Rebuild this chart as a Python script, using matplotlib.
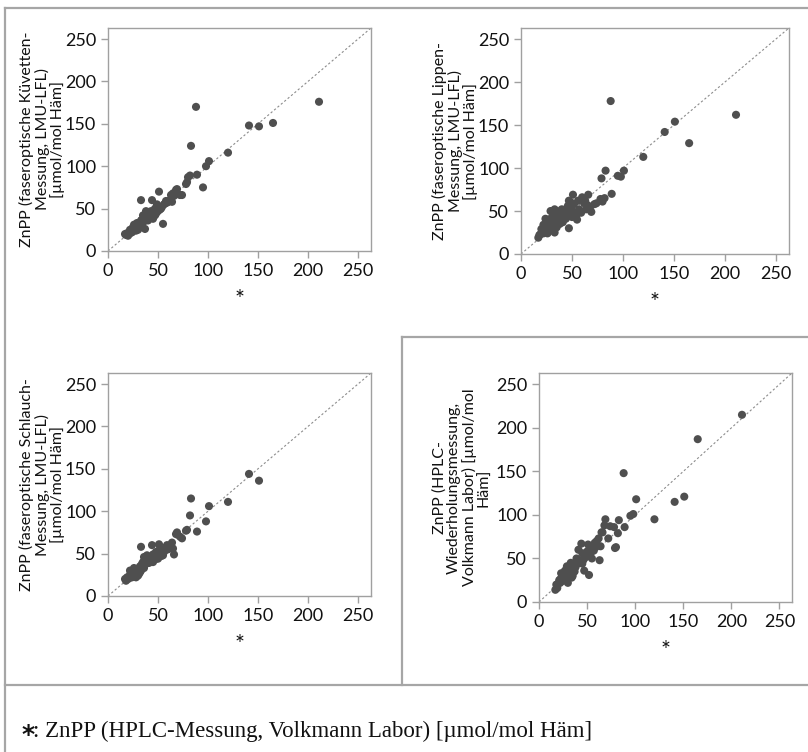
import numpy as np
import matplotlib
matplotlib.use("Agg")
import matplotlib.pyplot as plt
from matplotlib.lines import Line2D

nan = np.nan

# Reference method (HPLC, Volkmann Labor) values, shared by all panels
x_ref = [211, 165, 151, 141, 120, 101, 98, 95, 89, 88, 83, 82, 80, 79, 78, 74, 72, 69, 68, 66,
         65, 64, 63, 62, 60, 59, 58, 57, 56, 55, 54, 53, 52, 51, 50, 50, 49, 48, 47, 47,
         46, 45, 45, 44, 43, 42, 41, 40, 40, 39, 38, 38, 37, 36, 36, 35, 35, 34, 34, 33,
         33, 32, 32, 31, 31, 30, 30, 29, 29, 28, 28, 27, 27, 26, 26, 25, 25, 24, 24, 23,
         22, 22, 21, 20, 19, 18, 17]

# Küvetten-Messung
y_kuevette = [176, 151, 147, 148, 116, 106, 100, 75, 90, 170, 124, 89, 87, 81, 79, 66, 66, 73, 72, 65,
              68, 58, 66, 60, 58, 57, 59, 56, 55, 32, 52, 50, 49, 70, 47, 53, 55, 44, 50, 42,
              46, 41, 38, 60, 47, 40, 44, 36, 42, 38, 44, 47, 26, 40, 35, 34, 42, 37, 31, 60,
              36, 29, 33, 30, 27, 32, 25, 28, 33, 30, 24, 29, 26, 27, 31, 24, 28, 25, 22, 24,
              21, 25, 20, 18, 21, 19, 20]

# Lippen-Messung
y_lippe = [162, 129, 154, 142, 113, 97, 90, 91, 70, 178, 97, 65, 61, 88, 64, 59, 58, 49, 55, 69,
           57, 52, 62, 59, 66, 48, 50, 52, 62, 40, 44, 47, 58, 69, 51, 43, 60, 57, 62, 30,
           56, 53, 48, 41, 45, 50, 37, 44, 52, 46, 40, 35, 48, 42, 38, 50, 31, 44, 36, 25,
           52, 40, 35, 48, 32, 42, 30, 36, 50, 27, 33, 40, 28, 35, 24, 38, 30, 41, 33, 27,
           34, 24, 28, 29, 23, 22, 19]

# Schlauch-Messung
y_schlauch = [nan, nan, 136, 144, 111, 106, 88, nan, 76, nan, 115, 95, nan, 78, 77, 68, 70, 75, 73, 49,
              56, 63, 60, 58, 55, 60, 57, 54, 52, 48, 55, 47, 56, 61, 50, 44, 46, 52, 48, 43,
              47, 49, 40, 60, 45, 43, 39, 44, 41, 48, 38, 41, 37, 46, 33, 40, 36, 32, 38, 58,
              30, 35, 28, 32, 26, 30, 24, 27, 31, 28, 22, 29, 25, 33, 27, 24, 29, 26, 22, 24,
              25, 30, 21, 20, 22, 18, 20]

# HPLC-Wiederholungsmessung
y_hplc_rep = [215, 187, 121, 115, 95, 118, 101, 99, 86, 148, 94, 79, 63, 62, 86, 87, 73, 95, 88, 80,
              80, 64, 48, 73, 70, 63, 68, 59, 60, 50, 57, 63, 31, 66, 55, 58, 52, 55, 36, 50,
              48, 44, 56, 67, 48, 46, 60, 47, 44, 50, 43, 40, 35, 42, 38, 44, 30, 40, 28, 45,
              42, 37, 33, 39, 31, 36, 22, 34, 41, 30, 26, 36, 29, 33, 25, 31, 27, 29, 24, 33,
              26, 22, 25, 21, 16, 20, 14]

ylabels = [
    "ZnPP (faseroptische Küvetten-\nMessung, LMU-LFL)\n[µmol/mol Häm]",
    "ZnPP (faseroptische Lippen-\nMessung, LMU-LFL)\n[µmol/mol Häm]",
    "ZnPP (faseroptische Schlauch-\nMessung, LMU-LFL)\n[µmol/mol Häm]",
    "ZnPP (HPLC-\nWiederholungsmessung,\nVolkmann Labor) [µmol/mol\nHäm]",
]
ticks = [0, 50, 100, 150, 200, 250]
footnote = ": ZnPP (HPLC-Messung, Volkmann Labor) [µmol/mol Häm]"

W, H = 808, 752
plt.rcParams['font.family'] = ['Lato', 'DejaVu Sans']
fig = plt.figure(figsize=(W / 100, H / 100), dpi=100)

# axes boxes in pixels: left, right, top, bottom
boxes = [(108, 371, 28, 251), (521, 789, 28, 254), (108, 371, 373, 596), (539, 792, 373, 602)]
ylabel_x = [-0.25, -0.245, -0.25, -0.305]
ys = [y_kuevette, y_lippe, y_schlauch, y_hplc_rep]
lim = 263

grey = '#a0a0a0'
for (l, r, t, b), yv, lab, lx in zip(boxes, ys, ylabels, ylabel_x):
    ax = fig.add_axes([l / W, 1 - b / H, (r - l) / W, (b - t) / H])
    ax.set_xlim(0, lim)
    ax.set_ylim(0, lim)
    ax.plot([0, lim], [0, lim], color='#8c8c8c', lw=0.8, ls=(0, (2, 2)), zorder=1)
    ax.scatter(x_ref, yv, s=34, color='#4f4f4f', edgecolors='none', zorder=2)
    ax.set_xticks(ticks)
    ax.set_yticks(ticks)
    ax.tick_params(direction='out', length=5, width=1, color=grey, labelsize=13,
                   labelcolor='#111111', pad=3.5)
    for sp in ax.spines.values():
        sp.set_color(grey)
        sp.set_linewidth(1.0)
    ax.text(lx, 0.5, lab, transform=ax.transAxes, rotation=90, ha='center', va='center',
            multialignment='center', fontsize=11.5, linespacing=1.05, color='#111111')
    ax.text(0.5, -49 / (b - t), "*", transform=ax.transAxes, ha='center', va='center',
            fontsize=17, color='#111111')

# table borders
bc = '#a6a6a6'
blw = 1.6
def hline(y, x0, x1):
    fig.add_artist(Line2D([x0 / W, x1 / W], [1 - y / H, 1 - y / H], color=bc, lw=blw))
def vline(x, y0, y1):
    fig.add_artist(Line2D([x / W, x / W], [1 - y0 / H, 1 - y1 / H], color=bc, lw=blw))

hline(8, 5, W + 2)
vline(5, 8, H + 2)
hline(685, 5, W + 2)
hline(336.5, 401.5, W + 2)
vline(401.5, 336.5, 685)

fig.text(21 / W, 1 - 742 / H, "*", fontsize=18, fontweight='bold', family='DejaVu Sans',
         ha='left', va='baseline', color='#111111')
fig.text(33 / W, 1 - 737 / H, footnote, fontsize=16.5, family='Liberation Serif',
         ha='left', va='baseline', color='#111111')

fig.savefig('out.png', dpi=100)
